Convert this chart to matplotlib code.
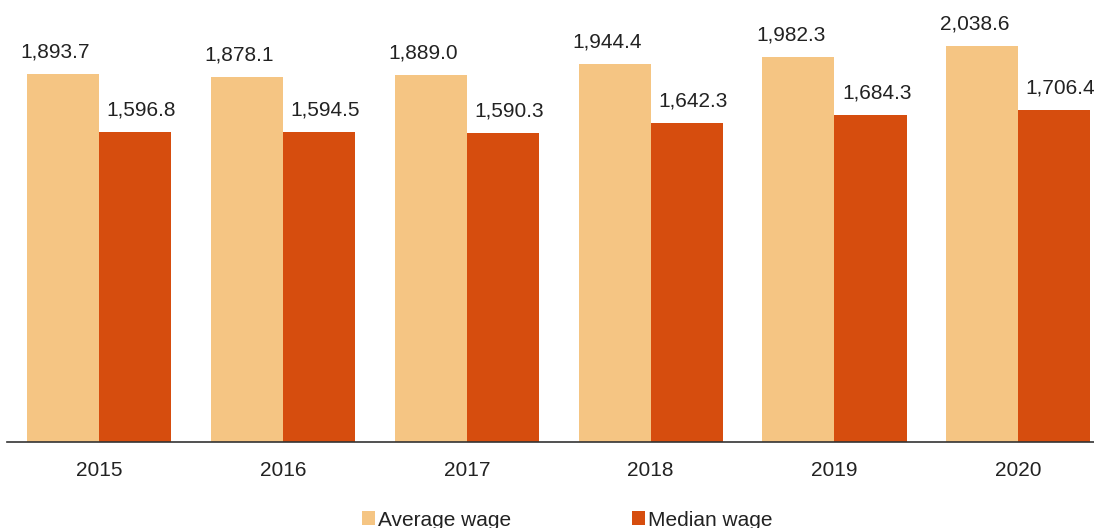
import matplotlib.pyplot as plt
import numpy as np

# data
years = ['2015', '2016', '2017', '2018', '2019', '2020']
average_wage = [1893.7, 1878.1, 1889.0, 1944.4, 1982.3, 2038.6]
median_wage = [1596.8, 1594.5, 1590.3, 1642.3, 1684.3, 1706.4]

plt.rcParams['font.family'] = ['Liberation Sans', 'DejaVu Sans']

W, H = 1094, 528
fig = plt.figure(figsize=(W / 100, H / 100), dpi=100)
ax = fig.add_axes([7 / W, (H - 442) / H, (W - 7) / W, 442 / H])

x = np.arange(len(years))
bw = 0.392
b1 = ax.bar(x - bw / 2, average_wage, bw, color='#F5C583', label='Average wage')
b2 = ax.bar(x + bw / 2, median_wage, bw, color='#D64D0E', label='Median wage')

# value labels, nudged a little sideways as in the original
for bars, vals, dx in [(b1, average_wage, -5.5), (b2, median_wage, 4.5)]:
    for rect, v in zip(bars, vals):
        ax.annotate(f'{v:,.1f}', (rect.get_x() + rect.get_width() / 2, v),
                    xytext=(dx, 9), textcoords='offset points',
                    ha='center', va='bottom', fontsize=15, color='#222222')

ax.set_xlim(-0.502, 5.412)
ax.set_ylim(0, 2275)
ax.set_xticks(x)
ax.set_xticklabels(years, fontsize=15, color='#222222')
ax.tick_params(axis='x', length=0, pad=14)
ax.set_yticks([])
for s in ['top', 'right', 'left']:
    ax.spines[s].set_visible(False)
ax.spines['bottom'].set_color('#333333')
ax.spines['bottom'].set_linewidth(1.2)

fig.legend(handles=[b1, b2], loc='center', bbox_to_anchor=(567 / W, 1 - 520 / H),
           ncol=2, frameon=False, fontsize=15, handlelength=0.62, handleheight=0.62,
           handletextpad=0.15, columnspacing=5.8, borderpad=0, labelcolor='#222222')

plt.savefig('out.png', dpi=100)
